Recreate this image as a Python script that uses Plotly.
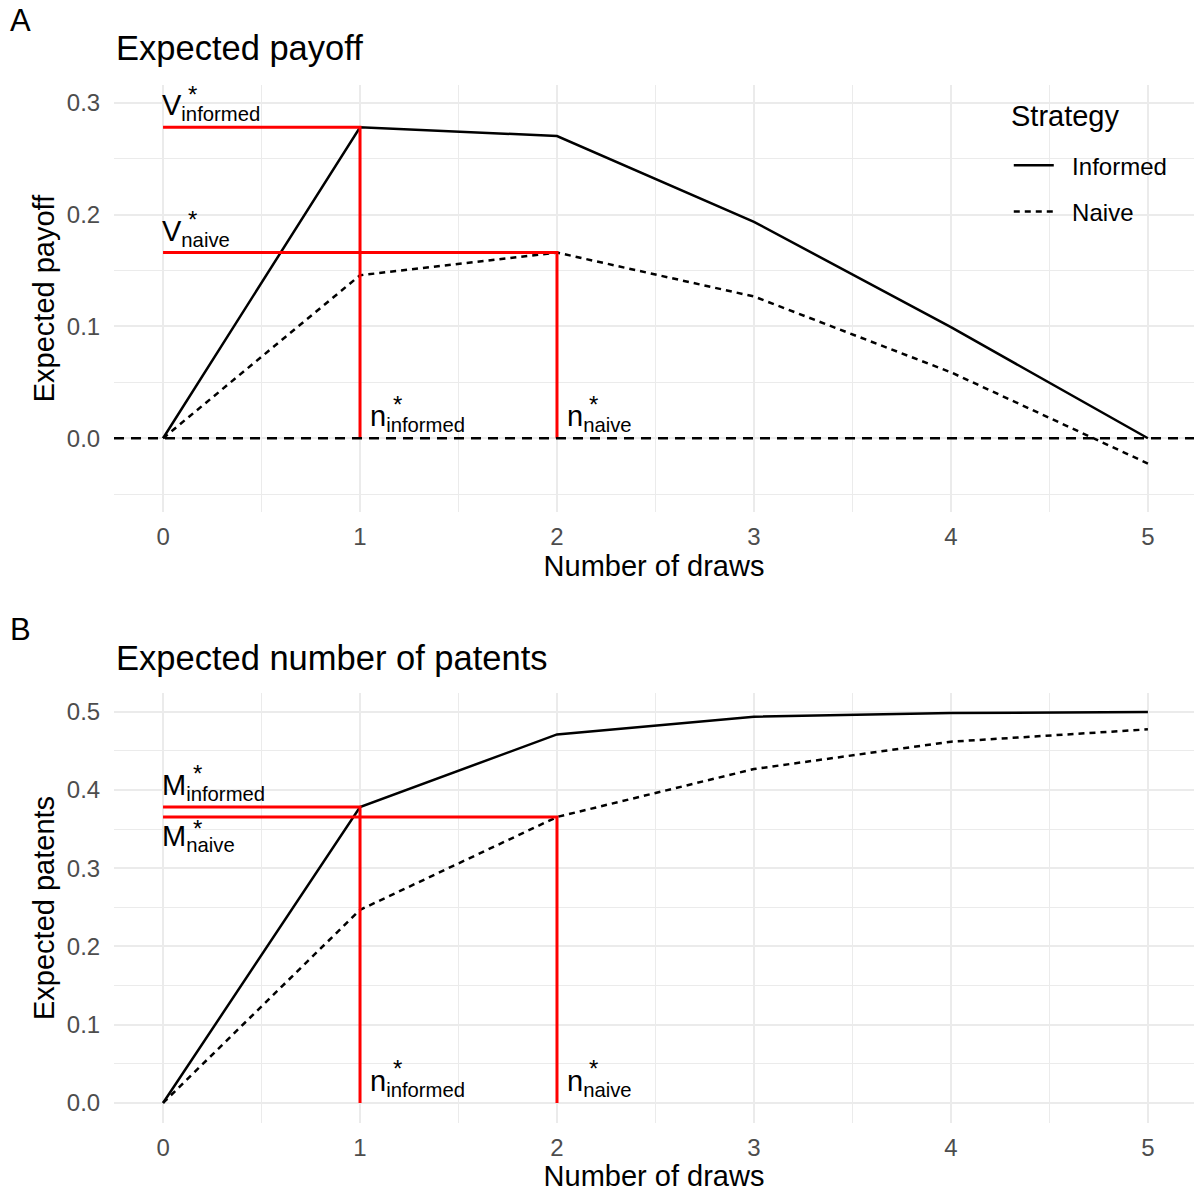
import plotly.graph_objects as go

# ---------------- data ----------------
draws = [0, 1, 2, 3, 4, 5]
payoff_informed = [0.0, 0.2782, 0.2704, 0.1936, 0.0994, 0.0]
payoff_naive = [0.0, 0.1458, 0.1661, 0.1268, 0.0590, -0.0226]
patents_informed = [0.0, 0.3783, 0.4710, 0.4936, 0.4983, 0.4996]
patents_naive = [0.0, 0.2468, 0.3655, 0.4268, 0.4617, 0.4775]
strategies = ["Informed", "Naive"]
x_ticks = [0, 1, 2, 3, 4, 5]
y_ticks_payoff = [0.0, 0.1, 0.2, 0.3]
y_ticks_patents = [0.0, 0.1, 0.2, 0.3, 0.4, 0.5]

# optimum number of draws (argmax of expected payoff)
i_inf = max(range(len(draws)), key=lambda i: payoff_informed[i])
i_nav = max(range(len(draws)), key=lambda i: payoff_naive[i])
n_inf, n_nav = draws[i_inf], draws[i_nav]
V_inf, V_nav = payoff_informed[i_inf], payoff_naive[i_nav]
M_inf, M_nav = patents_informed[i_inf], patents_naive[i_nav]

FONT = "Liberation Sans, Arial, Helvetica, sans-serif"
RED = "#ff0000"
GRID = "#ebebeb"
DOT = "6px,5px"
BW = 2.5
RW = 3

fig = go.Figure()
NB = "\u00a0\u00a0"

# ---- panel A ----
fig.add_trace(go.Scatter(x=draws, y=payoff_informed, mode="lines", name=NB + strategies[0],
                         line=dict(color="black", width=BW), legendgroup="a",
                         xaxis="x", yaxis="y"))
fig.add_trace(go.Scatter(x=draws, y=payoff_naive, mode="lines", name=NB + strategies[1],
                         line=dict(color="black", width=BW, dash=DOT), legendgroup="b",
                         xaxis="x", yaxis="y"))
fig.add_trace(go.Scatter(x=[draws[0], n_inf, n_inf], y=[V_inf, V_inf, 0], mode="lines",
                         line=dict(color=RED, width=RW), showlegend=False,
                         xaxis="x", yaxis="y"))
fig.add_trace(go.Scatter(x=[draws[0], n_nav, n_nav], y=[V_nav, V_nav, 0], mode="lines",
                         line=dict(color=RED, width=RW), showlegend=False,
                         xaxis="x", yaxis="y"))

# ---- panel B ----
fig.add_trace(go.Scatter(x=draws, y=patents_informed, mode="lines", name=strategies[0],
                         line=dict(color="black", width=BW), showlegend=False,
                         xaxis="x2", yaxis="y2"))
fig.add_trace(go.Scatter(x=draws, y=patents_naive, mode="lines", name=strategies[1],
                         line=dict(color="black", width=BW, dash=DOT), showlegend=False,
                         xaxis="x2", yaxis="y2"))
fig.add_trace(go.Scatter(x=[draws[0], n_inf, n_inf], y=[M_inf, M_inf, 0], mode="lines",
                         line=dict(color=RED, width=RW), showlegend=False,
                         xaxis="x2", yaxis="y2"))
fig.add_trace(go.Scatter(x=[draws[0], n_nav, n_nav], y=[M_nav, M_nav, 0], mode="lines",
                         line=dict(color=RED, width=RW), showlegend=False,
                         xaxis="x2", yaxis="y2"))

# zero reference line in panel A
fig.add_shape(type="line", xref="x domain", yref="y", x0=0, x1=1, y0=0, y1=0,
              line=dict(color="black", width=BW, dash="10px,7px"))

# ---- math labels ----
LBL = 29
STAR = 24
anns = []


def label(main, sub, x, y, xr, yr, above=True, dx=-3):
    ysh = 0 if above else -1
    anns.append(dict(text=f"{main}<sub>{sub}</sub>", x=x, y=y, xref=xr, yref=yr,
                     xanchor="left", yanchor="bottom" if above else "top",
                     showarrow=False, font=dict(size=LBL, color="black", family=FONT),
                     xshift=dx, yshift=ysh))


def star(x, y, xr, yr, dx, dy):
    anns.append(dict(text="*", x=x, y=y, xref=xr, yref=yr, xanchor="center",
                     yanchor="middle", showarrow=False,
                     font=dict(size=STAR, color="black", family=FONT),
                     xshift=dx, yshift=dy))


# panel A
label("V", "informed", draws[0], V_inf, "x", "y")
star(draws[0], V_inf, "x", "y", 29, 33)
label("V", "naive", draws[0], V_nav, "x", "y")
star(draws[0], V_nav, "x", "y", 29, 33)
label("n", "informed", n_inf, 0, "x", "y", dx=8)
star(n_inf, 0, "x", "y", 37, 34)
label("n", "naive", n_nav, 0, "x", "y", dx=8)
star(n_nav, 0, "x", "y", 37, 34)
# panel B
label("M", "informed", draws[0], M_inf, "x2", "y2")
star(draws[0], M_inf, "x2", "y2", 34, 33)
label("M", "naive", draws[0], M_nav, "x2", "y2", above=False)
star(draws[0], M_nav, "x2", "y2", 34, -12)
label("n", "informed", n_inf, 0, "x2", "y2", dx=8)
star(n_inf, 0, "x2", "y2", 37, 34)
label("n", "naive", n_nav, 0, "x2", "y2", dx=8)
star(n_nav, 0, "x2", "y2", 37, 34)

# panel titles, tags and legend title
for txt, x, y, size in [("A", -0.098, 1.0626, 31), ("Expected payoff", 0.0, 1.0356, 34.5),
                        ("B", -0.098, 0.475, 31), ("Expected number of patents", 0.0, 0.448, 34.5),
                        ("Strategy", 0.8285, 0.9701, 29)]:
    anns.append(dict(text=txt, x=x, y=y, xref="paper", yref="paper", xanchor="left",
                     yanchor="middle", showarrow=False,
                     font=dict(size=size, color="black", family=FONT)))

axis_common = dict(showline=False, zeroline=False, gridcolor=GRID, gridwidth=1.8,
                   ticks="outside", tickcolor="rgba(0,0,0,0)",
                   tickfont=dict(size=24, color="#4d4d4d", family=FONT))


def xax(anchor):
    return dict(axis_common, range=[-0.249, 5.234], tickvals=x_ticks, anchor=anchor,
                domain=[0, 1], ticklen=3,
                minor=dict(dtick=0.5, tick0=0, showgrid=True, gridcolor=GRID, gridwidth=1),
                title=dict(text="Number of draws", standoff=3,
                           font=dict(size=29, color="black", family=FONT)))


fig.update_layout(
    width=1194, height=1192,
    margin=dict(l=114, r=0, t=85, b=69),
    paper_bgcolor="white", plot_bgcolor="white",
    font=dict(family=FONT),
    hovermode=False,
    xaxis=xax("y"),
    xaxis2=xax("y2"),
    yaxis=dict(axis_common, range=[-0.066, 0.316], tickvals=y_ticks_payoff, tickformat=".1f",
               domain=[0.5886, 1.0], anchor="x", ticklen=8,
               minor=dict(dtick=0.05, tick0=0, showgrid=True, gridcolor=GRID, gridwidth=1),
               title=dict(text="Expected payoff", standoff=3,
                          font=dict(size=29, color="black", family=FONT))),
    yaxis2=dict(axis_common, range=[-0.0256, 0.524], tickvals=y_ticks_patents, tickformat=".1f",
                domain=[0.0, 0.4143], anchor="x2", ticklen=8,
                minor=dict(dtick=0.05, tick0=0, showgrid=True, gridcolor=GRID, gridwidth=1),
                title=dict(text="Expected patents", standoff=3,
                           font=dict(size=29, color="black", family=FONT))),
    legend=dict(x=0.8285, y=0.944, xanchor="left", yanchor="top",
                font=dict(size=24, color="black", family=FONT),
                traceorder="grouped", tracegroupgap=12, bgcolor="rgba(0,0,0,0)",
                itemwidth=40),
    annotations=anns,
)

fig.write_html("out.html", config={"displayModeBar": False},
               post_script="document.body.style.margin='0';")
